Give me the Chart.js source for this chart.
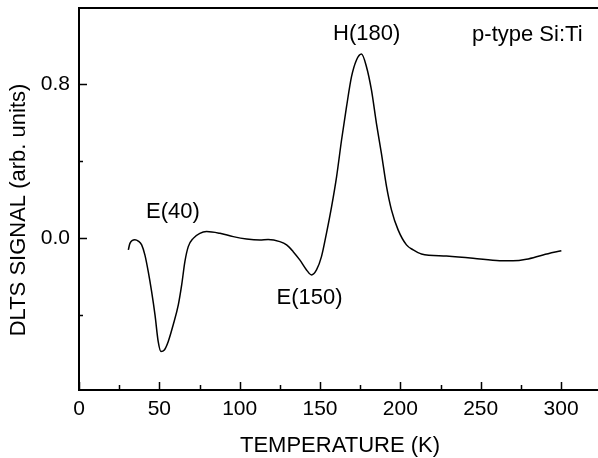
<!DOCTYPE html>
<html>
<head>
<meta charset="utf-8">
<script src="https://cdn.jsdelivr.net/npm/chart.js@4"></script>
<style>
  html, body { margin: 0; padding: 0; background: #fff; }
  #wrap { width: 598px; height: 458px; }
</style>
</head>
<body>
<div id="wrap"><canvas id="dlts"></canvas></div>
<script>
// DLTS spectrum of p-type Si:Ti
const temperature = [30.7, 31.7, 34.8, 36.9, 39, 41, 43.1, 45.2, 47.3, 49.3, 51, 53.1, 55.5, 58.6,
  61.8, 63.9, 65.9, 68, 71.1, 75.2, 79.4, 87.7, 96, 104.3, 112.6, 117.7, 125, 129.2, 133.3,
  137.4, 141.6, 144.7, 147.8, 150.9, 154, 157.2, 160.3, 163.4, 166.5, 169.6, 172.7, 175.8,
  178.9, 182, 185.1, 188.2, 191.4, 194.5, 198.6, 203.8, 208, 213.1, 228.7, 245.2, 261.8,
  270.1, 278.4, 288.8, 300.2];
const signal = [-0.062, -0.028, -0.009, -0.016, -0.036, -0.088, -0.175, -0.279, -0.40, -0.539,
  -0.59, -0.582, -0.539, -0.452, -0.348, -0.244, -0.123, -0.045, -0.002, 0.024, 0.033, 0.024,
  0.007, -0.005, -0.010, -0.008, -0.019, -0.036, -0.071, -0.114, -0.166, -0.192, -0.166,
  -0.097, 0.024, 0.163, 0.318, 0.509, 0.682, 0.838, 0.925, 0.956, 0.89, 0.769, 0.596, 0.44,
  0.267, 0.145, 0.042, -0.036, -0.062, -0.083, -0.094, -0.105, -0.118, -0.119, -0.111,
  -0.088, -0.066];

const xTicks = [0, 25, 50, 75, 100, 125, 150, 175, 200, 225, 250, 275, 300];
const xLabelled = [0, 50, 100, 150, 200, 250, 300];
const yTicks = [-0.4, 0, 0.4, 0.8];
const yLabelled = [0, 0.8];

const peakNames = ['E(40)', 'E(150)', 'H(180)', 'p-type Si:Ti'];
const peakAt = [[58.5, 0.135], [143.5, -0.31], [179, 1.06], [279, 1.055]];

const FONT = '"Liberation Sans", Arial, Helvetica, sans-serif';

const frame = {
  id: 'frame',
  afterDraw(chart) {
    const { ctx, chartArea: a, scales: { x, y } } = chart;
    ctx.save();
    ctx.strokeStyle = '#000';
    // top border
    ctx.lineWidth = 2;
    ctx.beginPath();
    ctx.moveTo(a.left, a.top);
    ctx.lineTo(a.right, a.top);
    ctx.stroke();
    // inward ticks
    ctx.lineWidth = 1.5;
    ctx.beginPath();
    xTicks.forEach(v => {
      const px = Math.round(x.getPixelForValue(v)) + 0.5;
      const len = xLabelled.includes(v) ? 8 : 5;
      ctx.moveTo(px, a.bottom);
      ctx.lineTo(px, a.bottom - len);
    });
    yTicks.forEach(v => {
      const py = Math.round(y.getPixelForValue(v)) + 0.5;
      const len = yLabelled.includes(v) ? 8 : 4;
      ctx.moveTo(a.left, py);
      ctx.lineTo(a.left + len, py);
    });
    ctx.stroke();

    ctx.fillStyle = '#000';
    ctx.textAlign = 'center';
    ctx.textBaseline = 'middle';
    ctx.font = '22px ' + FONT;
    peakNames.forEach((t, i) => {
      ctx.fillText(t, x.getPixelForValue(peakAt[i][0]), y.getPixelForValue(peakAt[i][1]));
    });
    // axis titles
    ctx.fillText('TEMPERATURE (K)', 340, 446);
    ctx.translate(19, 210);
    ctx.rotate(-Math.PI / 2);
    ctx.fillText('DLTS SIGNAL (arb. units)', 0, 0);
    ctx.restore();
  }
};

new Chart(document.getElementById('dlts'), {
  type: 'line',
  data: {
    datasets: [{
      data: temperature.map((t, i) => ({ x: t, y: signal[i] })),
      borderColor: '#000',
      borderWidth: 1.5,
      pointRadius: 0,
      cubicInterpolationMode: 'monotone',
      fill: false
    }]
  },
  options: {
    responsive: true,
    maintainAspectRatio: false,
    animation: false,
    layout: { padding: { top: 8, left: 0, right: 0, bottom: 0 } },
    plugins: { legend: { display: false }, tooltip: { enabled: false } },
    scales: {
      x: {
        type: 'linear',
        min: 0,
        max: 323,
        grid: { display: false, drawTicks: false },
        border: { display: true, color: '#000', width: 2 },
        afterBuildTicks: s => { s.ticks = xTicks.map(v => ({ value: v })); },
        afterFit: s => { s.height = 68; s.paddingLeft = 0; s.paddingRight = 0; },
        ticks: {
          autoSkip: false,
          maxRotation: 0,
          padding: 7,
          color: '#000',
          font: { family: FONT, size: 21 },
          callback: v => xLabelled.includes(v) ? String(v) : ''
        }
      },
      y: {
        min: -0.79,
        max: 1.195,
        grid: { display: false, drawTicks: false },
        border: { display: true, color: '#000', width: 2 },
        afterBuildTicks: s => { s.ticks = yTicks.map(v => ({ value: v })); },
        afterFit: s => { s.width = 79; s.paddingTop = 0; s.paddingBottom = 0; },
        ticks: {
          autoSkip: false,
          padding: 9,
          color: '#000',
          font: { family: FONT, size: 21 },
          callback: v => yLabelled.includes(v) ? v.toFixed(1) : ''
        }
      }
    }
  },
  plugins: [frame]
});
</script>
</body>
</html>
